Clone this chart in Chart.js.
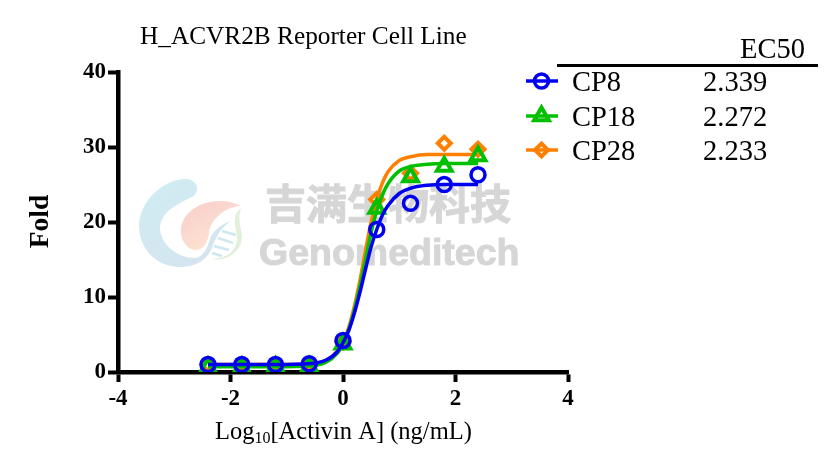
<!DOCTYPE html>
<html>
<head>
<meta charset="utf-8">
<style>
  html, body { margin: 0; padding: 0; background: #fff; }
  #wrap { width: 833px; height: 470px; position: relative; }
</style>
<script src="https://cdn.jsdelivr.net/npm/chart.js@4/dist/chart.umd.min.js"></script>
</head>
<body>
<div id="wrap"><canvas id="myChart"></canvas></div>
<script>
const doseX = [-2.4, -1.8, -1.2, -0.6, 0, 0.6, 1.2, 1.8, 2.4];
const cp8Points = [1.0, 1.0, 1.0, 1.1, 4.2, 19.0, 22.5, 25.0, 26.3];
const cp18Points = [0.6, 0.6, 0.7, 0.7, 3.7, 21.8, 26.0, 27.4, 28.8];
const cp28Points = [1.0, 1.0, 1.0, 1.0, 4.0, 23.0, 26.5, 30.5, 29.7];

// fitted curves
const curveX = [-2.4, -1.8, -1.2, -0.6, -0.3, -0.1, 0, 0.1, 0.2, 0.3, 0.4, 0.5, 0.6, 0.7, 0.8, 1.0, 1.2, 1.5, 1.8, 2.4];
const cp8Curve = [1.0, 1.0, 1.0, 1.1, 1.6, 2.7, 3.9, 5.5, 7.8, 10.6, 13.7, 16.7, 19.0, 20.9, 22.2, 23.8, 24.5, 24.9, 25.0, 25.0];
const cp18Curve = [0.7, 0.7, 0.7, 0.8, 1.3, 2.5, 3.7, 5.6, 8.2, 11.4, 15.0, 18.6, 21.5, 23.6, 25.1, 26.8, 27.4, 27.7, 27.8, 27.8];
const cp28Curve = [1.0, 1.0, 1.0, 1.0, 1.5, 2.8, 4.0, 5.9, 8.7, 12.2, 16.2, 20.0, 23.0, 25.2, 26.7, 28.2, 28.7, 29.0, 29.0, 29.0];

const xTicks = [-4, -2, 0, 2, 4];
const yTicks = [0, 10, 20, 30, 40];
const names = ['CP8', 'CP18', 'CP28'];
const ec50 = ['2.339', '2.272', '2.233'];
const colors = ['#0000f0', '#00c000', '#ff8000'];
const styles = ['circle', 'triangle', 'rectRot'];
const radii = [7, 8.5, 6.5];
const borders = [3.5, 4, 4];

const serif = '"Liberation Serif", serif';
const sans = '"Liberation Sans", sans-serif';

function xy(xs, ys) {
  return xs.map((x, i) => ({ x: x, y: ys[i] }));
}

// lower order is drawn on top: CP8 above CP18 above CP28
function curveSet(ys, i) {
  return {
    label: names[i] + ' fit', data: xy(curveX, ys), showLine: true,
    borderColor: colors[i], borderWidth: 3.5, pointRadius: 0,
    cubicInterpolationMode: 'monotone', order: i * 2 + 1
  };
}

function pointSet(ys, i) {
  return {
    label: names[i], data: xy(doseX, ys), showLine: false,
    pointStyle: styles[i], pointRadius: radii[i], pointBorderWidth: borders[i],
    pointBorderColor: colors[i], pointBackgroundColor: 'rgba(0,0,0,0)',
    order: i * 2
  };
}

// faded company logo and name behind the data
const watermark = {
  id: 'watermark',
  beforeDatasetsDraw(chart) {
    const ctx = chart.ctx;
    ctx.save();
    let g = ctx.createLinearGradient(150, 185, 215, 265);
    g.addColorStop(0, '#d0ecf3');
    g.addColorStop(1, '#d5e4ef');
    ctx.fillStyle = g;
    ctx.beginPath();
    ctx.moveTo(185, 179);
    ctx.bezierCurveTo(198, 179, 201, 192, 192, 197);
    ctx.bezierCurveTo(175, 205, 160, 213, 160, 229);
    ctx.bezierCurveTo(161, 245, 178, 258, 195, 258);
    ctx.bezierCurveTo(208, 256, 208, 240, 213, 233);
    ctx.bezierCurveTo(218, 227, 224, 223, 231, 221);
    ctx.bezierCurveTo(222, 227, 217, 235, 213, 245);
    ctx.bezierCurveTo(209, 258, 198, 267, 180, 267);
    ctx.bezierCurveTo(155, 267, 139, 247, 139, 226);
    ctx.bezierCurveTo(139, 200, 165, 179, 185, 179);
    ctx.fill();

    g = ctx.createLinearGradient(190, 205, 215, 250);
    g.addColorStop(0, '#f8d0cb');
    g.addColorStop(1, '#fde4d2');
    ctx.fillStyle = g;
    ctx.beginPath();
    ctx.moveTo(241, 206);
    ctx.bezierCurveTo(228, 199, 212, 200, 200, 205);
    ctx.bezierCurveTo(186, 212, 180, 222, 181, 233);
    ctx.bezierCurveTo(182, 244, 190, 251, 197, 250);
    ctx.bezierCurveTo(206, 248, 208, 240, 209, 232);
    ctx.bezierCurveTo(211, 220, 224, 207, 241, 206);
    ctx.fill();

    ctx.fillStyle = '#e2efd9';
    ctx.beginPath();
    ctx.moveTo(241, 208);
    ctx.bezierCurveTo(232, 215, 235, 225, 237, 235);
    ctx.bezierCurveTo(238, 250, 228, 258, 212, 259);
    ctx.bezierCurveTo(228, 262, 243, 250, 242, 235);
    ctx.bezierCurveTo(240, 225, 238, 216, 241, 208);
    ctx.fill();

    ctx.strokeStyle = '#cde8ef';
    ctx.lineWidth = 2.5;
    [[222, 231, 236, 235], [218, 238, 233, 243], [214, 246, 229, 250], [212, 253, 222, 256]].forEach(s => {
      ctx.beginPath();
      ctx.moveTo(s[0], s[1]);
      ctx.lineTo(s[2], s[3]);
      ctx.stroke();
    });

    ctx.fillStyle = '#d6d6d6';
    ctx.strokeStyle = '#d6d6d6';
    ctx.lineWidth = 1;
    ctx.textBaseline = 'alphabetic';
    ctx.textAlign = 'left';
    ctx.font = 'bold 41px "Noto Sans CJK SC"';
    ctx.fillText('吉满生物科技', 265, 219);
    ctx.strokeText('吉满生物科技', 265, 219);
    ctx.font = 'bold 37.5px ' + sans;
    ctx.fillText('Genomeditech', 259, 265);
    ctx.strokeText('Genomeditech', 259, 265);
    ctx.restore();
  }
};

const texts = {
  id: 'texts',
  afterDraw(chart) {
    const ctx = chart.ctx;
    ctx.save();
    ctx.fillStyle = '#000';
    ctx.textBaseline = 'alphabetic';
    ctx.textAlign = 'left';

    ctx.font = '25.3px ' + serif;
    ctx.fillText('H_ACVR2B Reporter Cell Line', 140, 44);

    // x axis title, with the subscript
    let x = 215;
    const base = 439;
    ctx.font = '24.5px ' + serif;
    ctx.fillText('Log', x, base);
    x += ctx.measureText('Log').width;
    ctx.font = '16px ' + serif;
    ctx.fillText('10', x, base + 4);
    x += ctx.measureText('10').width;
    ctx.font = '24.5px ' + serif;
    ctx.fillText('[Activin A] (ng/mL)', x, base);

    ctx.save();
    ctx.translate(48, 221.5);
    ctx.rotate(-Math.PI / 2);
    ctx.textAlign = 'center';
    ctx.font = 'bold 27.5px ' + serif;
    ctx.fillText('Fold', 0, 0);
    ctx.restore();

    // legend table
    ctx.strokeStyle = '#000';
    ctx.lineWidth = 3;
    ctx.beginPath();
    ctx.moveTo(557, 65.5);
    ctx.lineTo(818, 65.5);
    ctx.stroke();

    ctx.font = '28.5px ' + serif;
    ctx.fillText('EC50', 740, 58);
    const rows = [81, 116, 150];
    names.forEach((n, i) => {
      const y = rows[i];
      ctx.fillStyle = '#000';
      ctx.fillText(n, 572, y + 10);
      ctx.fillText(ec50[i], 703, y + 10);
      ctx.strokeStyle = colors[i];
      ctx.lineWidth = 3.5;
      ctx.beginPath();
      ctx.moveTo(526, y);
      ctx.lineTo(558, y);
      ctx.stroke();
      ctx.lineWidth = borders[i];
      ctx.fillStyle = 'rgba(0,0,0,0)';
      Chart.helpers.drawPoint(ctx, { pointStyle: styles[i], rotation: 0, radius: radii[i], borderWidth: borders[i] }, 541.5, y);
    });
    ctx.restore();
  }
};

new Chart(document.getElementById('myChart'), {
  type: 'scatter',
  data: {
    datasets: [
      curveSet(cp28Curve, 2), pointSet(cp28Points, 2),
      curveSet(cp18Curve, 1), pointSet(cp18Points, 1),
      curveSet(cp8Curve, 0), pointSet(cp8Points, 0)
    ]
  },
  options: {
    responsive: true,
    maintainAspectRatio: false,
    animation: false,
    layout: { padding: { left: 0, right: 265, top: 72, bottom: 0 } },
    plugins: { legend: { display: false }, title: { display: false }, tooltip: { enabled: false } },
    scales: {
      x: {
        type: 'linear', min: -4, max: 4,
        afterBuildTicks: s => { s.ticks = xTicks.map(v => ({ value: v })); },
        afterFit: s => { s.height = 98; },
        border: { color: '#000', width: 4.5 },
        grid: { drawOnChartArea: false, drawTicks: true, tickLength: 10, tickWidth: 4, tickColor: '#000' },
        ticks: { color: '#000', font: { family: serif, size: 23, weight: 'bold' }, padding: 3, maxRotation: 0 }
      },
      y: {
        type: 'linear', min: 0, max: 40,
        afterBuildTicks: s => { s.ticks = yTicks.map(v => ({ value: v })); },
        afterFit: s => { s.width = 118; },
        border: { color: '#000', width: 4.5 },
        grid: { drawOnChartArea: false, drawTicks: true, tickLength: 10, tickWidth: 4, tickColor: '#000' },
        ticks: { color: '#000', font: { family: serif, size: 23, weight: 'bold' }, padding: 2 }
      }
    }
  },
  plugins: [watermark, texts]
});
</script>
</body>
</html>
